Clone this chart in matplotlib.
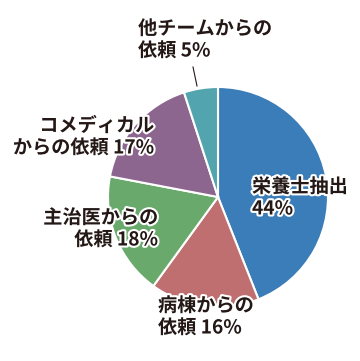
import matplotlib

matplotlib.use("Agg")
import matplotlib.pyplot as plt
import matplotlib.patheffects as pe

plt.rcParams["font.family"] = ["Noto Sans CJK JP", "DejaVu Sans"]

# slices, clockwise from 12 o'clock
categories = ["栄養士抽出\n", "病棟からの\n依頼 ", "主治医からの\n依頼 ", "コメディカル\nからの依頼 ", "他チームからの\n依頼 "]
shares = [44, 16, 18, 17, 5]
colors = ["#3a7db8", "#bf6f6f", "#69aa6c", "#8d6690", "#52a5ae"]

# label anchors in pixel space (x, y from top) and alignment
label_pos = [(252, 198), (158, 317), (158, 229), (154, 137), (138, 40)]
label_ha = ["left", "left", "right", "right", "left"]

W, H = 360, 361
cx, cy, r = 218, 197, 110

fig = plt.figure(figsize=(W / 100, H / 100), dpi=100)
ax = fig.add_axes([0, 0, 1, 1])

ax.pie(
    shares,
    colors=colors,
    startangle=90,
    counterclock=False,
    center=(cx, H - cy),
    radius=r,
    wedgeprops=dict(edgecolor="white", linewidth=1.5),
    frame=True,
)
ax.set_xlim(0, W)
ax.set_ylim(0, H)
ax.set_aspect("equal")
ax.axis("off")

outline = [pe.withStroke(linewidth=3, foreground="white")]
for cat, val, (x, y), ha in zip(categories, shares, label_pos, label_ha):
    ax.text(
        x, H - y, f"{cat}{val}%",
        ha=ha, va="center", fontsize=13.8, fontweight="bold",
        color="#231815", linespacing=1.2, path_effects=outline,
        multialignment=ha,
    )

# leader line for the small slice
ax.plot([193, 197], [H - 67, H - 86], color="#231815", linewidth=0.8)

fig.savefig("out.png", dpi=100)
